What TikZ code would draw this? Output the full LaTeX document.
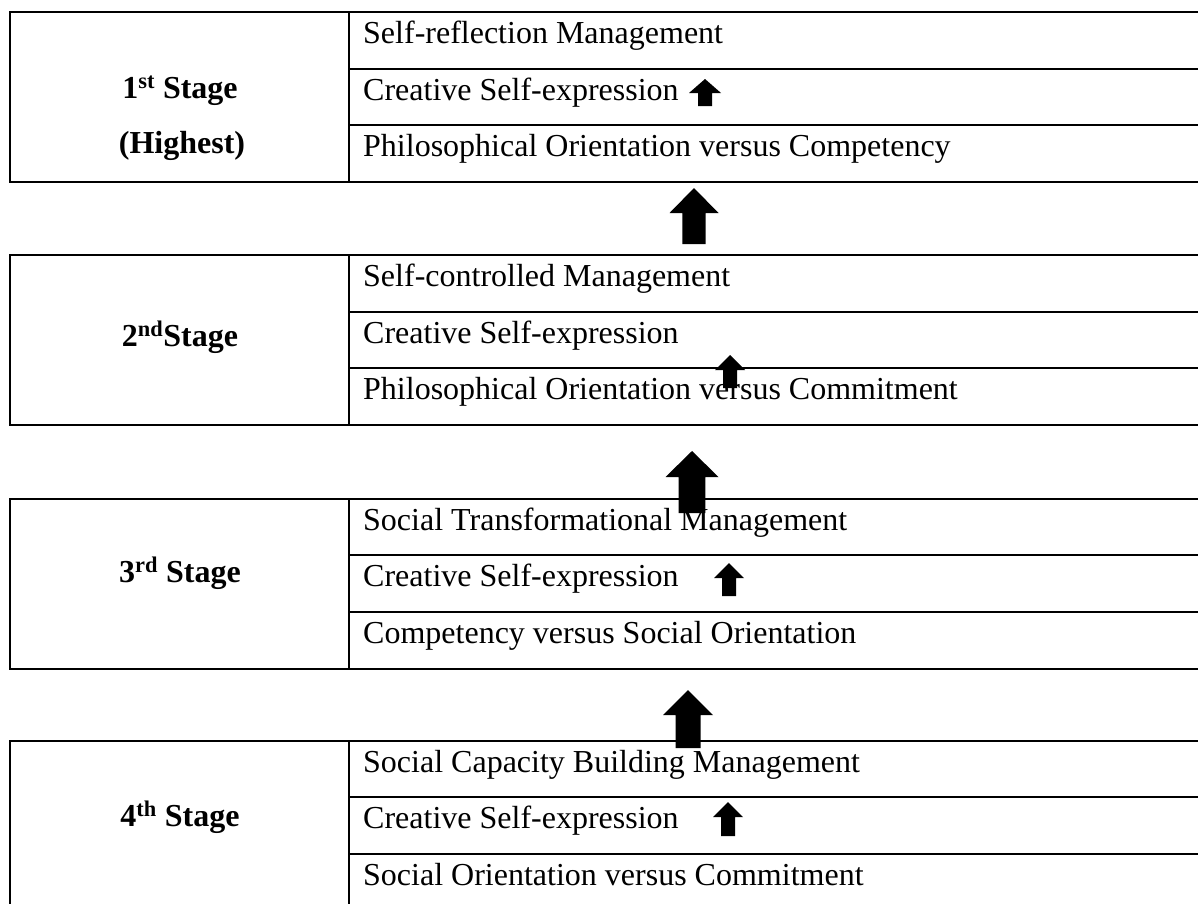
\documentclass[tikz,border=0pt]{standalone}
\usepackage{fontspec}
\setmainfont{Liberation Serif}
\newcommand\blockup[6]{% cx, top, headbase, bottom, half head, half shaft
  \fill[black] (#1-#6,#4) -- (#1-#6,#3) -- (#1-#5,#3) -- (#1,#2) -- (#1+#5,#3) -- (#1+#6,#3) -- (#1+#6,#4) -- cycle;}
\newcommand\stagegrid[5]{% top, r1, r2, bottom, draw bottom?
  \draw[rule] (1198,#1) -- (10,#1) -- (10,#4) \ifnum#5=1 -- (1198,#4)\fi;
  \draw[rule] (349,#1) -- (349,#4);
  \draw[rule] (349,#2) -- (1198,#2);
  \draw[rule] (349,#3) -- (1198,#3);}
\begin{document}
\begin{tikzpicture}[x=1pt,y=-1pt,
  rule/.style={line width=2.2pt, line cap=rect},
  rowtext/.style={anchor=base west, inner sep=0pt, font=\fontsize{32}{38}\selectfont},
  stagetext/.style={anchor=base, inner sep=0pt, font=\fontsize{32}{38}\selectfont\bfseries}]
\useasboundingbox (0,0) rectangle (1198,903);
\fill[white] (0,0) rectangle (1198,903);

% tables
\stagegrid{12}{69}{125}{182}{1}
\stagegrid{255}{312}{368}{425}{1}
\stagegrid{499}{555}{612}{669}{1}
\stagegrid{741}{797}{854}{903}{0}

% stage 1
\node[stagetext] (s1a) at (180,98) {1\textsuperscript{st} Stage};
\node[stagetext] (s1b) at (182,153) {(Highest)};
\node[rowtext] (t1a) at (363,43) {Self-reflection Management};
\node[rowtext] (t1b) at (363,100) {Creative Self-expression};
\node[rowtext] (t1c) at (363,156) {Philosophical Orientation versus Competency};

% stage 2
\node[stagetext] (s2) at (180,346) {2\textsuperscript{nd}Stage};
\node[rowtext] (t2a) at (363,286) {Self-controlled Management};
\node[rowtext] (t2b) at (363,343) {Creative Self-expression};
\node[rowtext] (t2c) at (363,399) {Philosophical Orientation versus Commitment};

% stage 3
\node[stagetext] (s3) at (180,582) {3\textsuperscript{rd} Stage};
\node[rowtext] (t3a) at (363,530) {Social Transformational Management};
\node[rowtext] (t3b) at (363,586) {Creative Self-expression};
\node[rowtext] (t3c) at (363,643) {Competency versus Social Orientation};

% stage 4
\node[stagetext] (s4) at (180,826) {4\textsuperscript{th} Stage};
\node[rowtext] (t4a) at (363,772) {Social Capacity Building Management};
\node[rowtext] (t4b) at (363,828) {Creative Self-expression};
\node[rowtext] (t4c) at (363,885) {Social Orientation versus Commitment};

% big arrows between stages
\blockup{694}{188}{213}{244}{24.5}{11.7}
\blockup{692}{451}{477}{513}{26.5}{13.3}
\blockup{688}{690}{715}{748}{25}{12.5}

% small arrows
\blockup{705}{79}{93}{106}{16}{7}
\blockup{730}{355}{370}{388}{15}{7}
\blockup{729}{563}{578}{596}{15}{7}
\blockup{728}{802}{817}{836}{15}{7}
\end{tikzpicture}
\end{document}
